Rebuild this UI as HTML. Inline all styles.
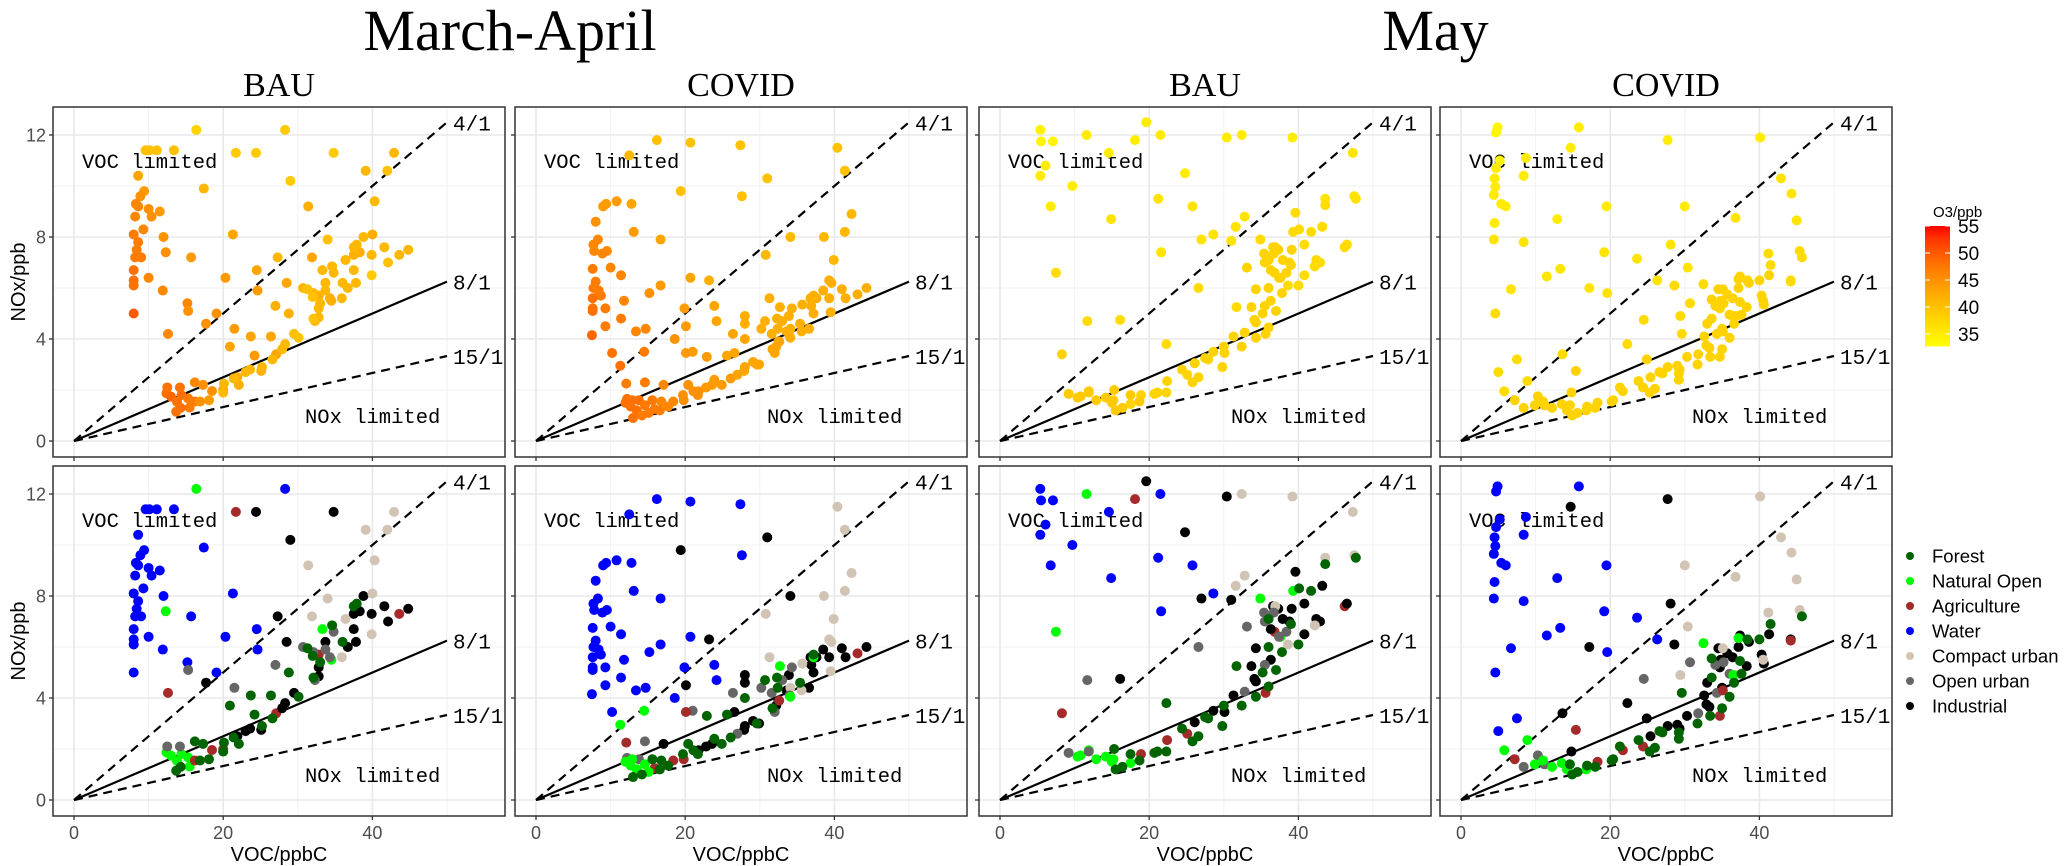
<!DOCTYPE html>
<html><head><meta charset="utf-8"><title>NOx vs VOC</title>
<style>
html,body{margin:0;padding:0;background:#fff;}
svg{display:block;}
text{font-family:"Liberation Sans",sans-serif;}
.serif{font-family:"Liberation Serif",serif;}
.mono{font-family:"Liberation Mono",monospace;}
</style></head>
<body>
<svg id="chart" width="2068" height="866" xmlns="http://www.w3.org/2000/svg"></svg>
<script>
// ---- data (x = VOC ppbC, y = NOx ppb, cat, O3 ppb) ----
const panelTitles = ["BAU","COVID","BAU","COVID"];
const periodTitles = ["March-April","May"];
const xTicks = [0,20,40];
const yTicks = [0,4,8,12];
const catNames = ["Forest","Natural Open","Agriculture","Water","Compact urban","Open urban","Industrial"];
const catCodes = ["F","N","A","W","C","O","I"];
const catColors = ["#006400","#00ff00","#a52a2a","#0000ff","#d2c4b4","#666666","#000000"];
const ratios = [4,8,15];
const ratioLabels = ["4/1","8/1","15/1"];
const o3Ticks = [35,40,45,50,55];

const marApBAU = [
[28.3,12.2,"W",39],[9.6,11.4,"W",40],[10.1,11.4,"W",40],[11.1,11.4,"W",40],[13.4,11.4,"W",40],[8.6,10.4,"W",43],[9.4,9.8,"W",44],[8.9,9.6,"W",45],[8.3,9.3,"W",46],[8.6,9.2,"W",46],[10.0,9.1,"W",45],[11.5,9.0,"W",44],[10.4,8.8,"W",45],[8.2,8.8,"W",46],[17.4,9.9,"W",41],[9.3,8.3,"W",46],[8.0,8.1,"W",47],[8.6,7.8,"W",47],[12.0,8.0,"W",45],[21.3,8.1,"W",43],[8.4,7.5,"W",47],[8.2,7.2,"W",47],[9.0,7.2,"W",47],[15.7,7.2,"W",44],[8.0,6.7,"W",48],[10.0,6.4,"W",46],[8.0,6.3,"W",48],[8.0,6.1,"W",48],[20.3,6.4,"W",44],[24.5,6.7,"W",43],[24.6,5.9,"W",44],[11.9,5.9,"W",46],[15.2,5.4,"W",46],[19.1,5.0,"W",45],[8.0,5.0,"W",50],
[16.4,12.2,"N",38],[12.3,7.4,"N",45],[33.3,6.7,"N",41],[37.7,7.4,"N",41],[34.5,5.5,"N",42],[12.4,1.87,"N",48],[13.0,1.74,"N",49],[13.8,1.54,"N",48],[15.5,1.31,"N",47],[14.4,1.8,"N",48],[15.3,1.67,"N",47],
[21.7,11.3,"A",39],[12.6,4.2,"A",46],[32.8,5.7,"A",42],[43.6,7.3,"A",41],[18.5,1.96,"A",45],[20.0,2.0,"A",44],[16.2,1.55,"A",47],[27.1,3.4,"A",43],
[24.4,11.3,"I",39],[34.8,11.3,"I",39],[29.0,10.2,"I",39],[38.8,8.0,"I",41],[44.8,7.5,"I",41],[41.6,7.6,"I",41],[39.9,7.3,"I",41],[38.3,7.4,"I",42],[37.5,7.3,"I",42],[42.1,7.0,"I",40],[37.5,6.7,"I",41],[27.3,7.2,"I",41],[28.5,6.2,"I",43],[33.7,6.2,"I",41],[37.8,6.2,"I",41],[36.7,6.0,"I",41],[32.8,5.2,"I",41],[32.8,4.85,"I",41],[17.7,4.6,"I",45],[29.5,4.2,"I",40],[28.3,3.8,"I",41],[27.9,3.6,"I",41],[23.0,2.7,"I",41],[23.6,2.8,"I",41],[25.1,2.75,"I",42],[21.9,2.5,"I",42],
[42.9,11.3,"C",41],[39.1,10.6,"C",41],[42.0,10.6,"C",40],[31.4,9.2,"C",42],[40.3,9.4,"C",41],[40.0,8.1,"C",42],[34.0,7.9,"C",40],[31.9,7.2,"C",43],[36.4,7.1,"C",41],[39.9,6.5,"C",39],[35.9,5.6,"C",41],
[15.3,5.1,"O",45],[21.5,4.4,"O",44],[27.0,5.3,"O",42],[30.7,6.0,"O",41],[32.1,5.8,"O",41],[33.7,5.9,"O",41],[34.8,6.6,"O",41],[34.3,5.6,"O",42],[32.3,4.7,"O",41],[12.5,2.1,"O",48],[14.2,2.1,"O",48],
[20.9,3.7,"F",43],[23.7,4.1,"F",43],[26.4,4.1,"F",43],[24.2,3.35,"F",44],[26.6,3.2,"F",41],[25.2,2.9,"F",41],[28.8,5.0,"F",42],[30.1,4.05,"F",40],[31.3,5.95,"F",40],[32.0,5.65,"F",40],[33.0,5.4,"F",41],[32.1,4.8,"F",40],[34.6,6.85,"F",41],[36.0,6.2,"F",41],[37.5,7.6,"F",41],[37.9,7.7,"F",41],[16.2,2.3,"F",46],[17.3,2.2,"F",45],[22.1,2.2,"F",42],[21.4,2.45,"F",41],[20.1,2.25,"F",41],[20.0,1.9,"F",41],[18.1,1.6,"F",44],[16.9,1.55,"F",45],[14.3,1.3,"F",48],[13.7,1.15,"F",48]
];

const marApCOVID = [
[16.2,11.8,"W",40],[20.7,11.7,"W",40],[27.4,11.6,"W",40],[12.5,11.2,"W",41],[27.6,9.6,"W",40],[10.8,9.4,"W",44],[9.4,9.3,"W",44],[9.0,9.2,"W",44],[12.8,9.3,"W",43],[8.0,8.6,"W",45],[13.1,8.2,"W",44],[16.7,7.9,"W",43],[8.3,7.9,"W",46],[7.7,7.7,"W",46],[7.8,7.45,"W",46],[8.9,7.35,"W",46],[9.5,7.45,"W",46],[7.6,6.75,"W",47],[10.0,6.8,"W",46],[11.4,6.5,"W",46],[20.7,6.4,"W",43],[8.0,6.25,"W",47],[7.7,6.0,"W",47],[8.4,5.9,"W",47],[8.7,5.7,"W",47],[7.6,5.6,"W",48],[16.7,6.1,"W",44],[15.2,5.8,"W",45],[11.8,5.5,"W",46],[9.3,5.2,"W",47],[7.6,5.2,"W",48],[7.6,5.1,"W",48],[19.9,5.2,"W",44],[23.9,5.3,"W",43],[24.2,4.7,"W",43],[11.4,4.8,"W",47],[9.3,4.5,"W",47],[13.4,4.3,"W",46],[14.7,4.4,"W",46],[18.6,4.0,"W",45],[7.5,4.15,"W",49],[10.2,3.45,"W",48],
[19.4,9.8,"I",40],[31.0,10.3,"I",40],[34.1,8.0,"I",41],[23.2,6.3,"I",42],[20.1,4.5,"I",44],[28.0,4.9,"I",42],[28.0,4.6,"I",42],[26.6,3.45,"I",43],[38.5,5.9,"I",42],[41.0,5.95,"I",42],[44.3,6.0,"I",42],[39.3,5.6,"I",42],[41.5,5.6,"I",42],[36.8,5.6,"I",42],[37.6,5.6,"I",42],[36.9,5.3,"I",42],[37.2,5.0,"I",42],[36.6,4.4,"I",42],[33.9,4.9,"I",42],[33.6,4.3,"I",42],[32.5,3.9,"I",42],[32.2,3.7,"I",43],[29.1,3.1,"I",43],[29.9,3.0,"I",43],[28.0,2.9,"I",43],[27.9,2.75,"I",43],[23.6,2.2,"I",44],[22.8,2.1,"I",44],[21.8,1.95,"I",45],[17.1,2.2,"I",46],
[40.4,11.5,"C",40],[41.4,10.6,"C",40],[42.3,8.9,"C",41],[38.6,8.0,"C",41],[41.4,8.2,"C",41],[30.8,7.3,"C",41],[39.9,7.1,"C",41],[39.3,6.3,"C",42],[39.6,6.2,"C",42],[31.3,5.6,"C",42],[35.7,5.35,"C",42],[39.5,5.05,"C",42],[34.1,4.4,"C",42],[35.6,4.3,"C",42],
[21.0,3.5,"O",44],[26.4,4.2,"O",43],[30.2,4.4,"O",42],[33.0,4.7,"O",42],[31.6,4.2,"O",42],[34.0,4.1,"O",42],[32.0,3.45,"O",43],[27.0,2.6,"O",43],[14.6,2.3,"O",47],[12.2,1.65,"O",48],[13.8,1.6,"O",48],[34.3,5.2,"O",42],
[20.1,3.45,"A",44],[12.1,2.25,"A",47],[18.4,1.55,"A",46],[19.8,1.6,"A",45],[15.9,1.25,"A",47],[43.1,5.75,"A",42],[32.6,3.9,"A",43],
[14.5,3.5,"N",47],[11.3,2.95,"N",48],[32.7,5.25,"N",42],[37.2,5.6,"N",42],[34.1,4.05,"N",42],[12.0,1.5,"N",48],[12.7,1.35,"N",48],[13.5,1.2,"N",48],[14.6,1.4,"N",47],[15.1,1.1,"N",47],[12.9,1.6,"N",48],
[22.9,3.3,"F",44],[25.6,3.35,"F",43],[28.0,4.0,"F",43],[30.7,4.7,"F",42],[32.3,4.8,"F",42],[32.4,4.4,"F",42],[31.7,3.6,"F",43],[35.4,4.6,"F",42],[37.2,5.7,"F",42],[29.6,3.0,"F",43],[26.1,2.45,"F",44],[24.9,2.2,"F",44],[23.9,2.4,"F",44],[20.4,2.2,"F",45],[21.1,1.95,"F",45],[19.7,1.8,"F",45],[21.7,1.8,"F",45],[15.6,1.6,"F",47],[16.8,1.55,"F",46],[17.7,1.35,"F",46],[16.6,1.2,"F",47],[14.2,1.0,"F",47],[13.0,0.9,"F",48]
];

const mayBAU = [
[5.4,12.2,"W",34],[5.5,11.75,"W",34],[7.1,11.75,"W",34],[6.1,10.8,"W",35],[5.4,10.4,"W",35],[14.6,11.3,"W",35],[9.7,10.0,"W",35],[21.5,12.0,"W",35],[6.8,9.2,"W",35],[14.9,8.7,"W",36],[21.2,9.5,"W",36],[25.8,9.2,"W",36],[28.6,8.1,"W",36],[21.6,7.4,"W",36],
[11.6,12.0,"N",35],[7.5,6.6,"N",37],[34.9,7.9,"N",37],[39.3,8.2,"N",37],[37.6,6.4,"N",38],[10.4,1.7,"N",39],[10.8,1.75,"N",39],[11.9,1.95,"N",39],[12.9,1.6,"N",39],[14.2,1.7,"N",39],[15.0,1.5,"N",39],[17.5,1.45,"N",38],[15.2,1.6,"N",39],
[18.1,11.8,"A",35],[8.3,3.4,"A",38],[22.4,2.35,"A",38],[18.9,1.8,"A",38],[25.1,2.6,"A",38],[35.6,4.2,"A",38],[36.8,6.6,"A",38],[46.2,7.6,"A",37],
[19.6,12.5,"I",35],[30.4,11.9,"I",35],[24.8,10.5,"I",35],[16.1,4.75,"I",37],[27.0,7.9,"I",36],[31.0,7.85,"I",36],[39.6,8.95,"I",37],[43.2,8.4,"I",37],[40.8,7.7,"I",37],[39.1,7.5,"I",38],[36.6,7.6,"I",38],[37.3,7.5,"I",38],[37.9,7.1,"I",38],[38.8,7.0,"I",38],[36.3,6.7,"I",38],[40.8,6.5,"I",37],[42.4,7.1,"I",37],[42.9,7.0,"I",37],[46.5,7.7,"I",37],[34.3,5.95,"I",38],[33.7,5.25,"I",38],[36.3,5.5,"I",38],[34.1,4.75,"I",38],[34.3,4.65,"I",38],[31.3,4.1,"I",38],[28.6,3.5,"I",38],[30.1,3.45,"I",38],[26.1,3.05,"I",38],
[32.4,12.0,"C",35],[39.2,11.9,"C",35],[47.3,11.3,"C",36],[43.6,9.5,"C",36],[47.5,9.6,"C",36],[32.8,8.8,"C",36],[31.6,8.4,"C",36],[42.2,6.85,"C",37],[38.6,6.1,"C",37],[36.9,7.6,"C",38],
[11.7,4.7,"O",37],[9.2,1.85,"O",39],[11.9,1.9,"O",39],[26.6,6.0,"O",37],[33.1,6.8,"O",38],[35.4,7.35,"O",38],[36.7,7.35,"O",38],[35.5,7.0,"O",38],[38.4,6.6,"O",38],[37.4,6.4,"O",38],[35.5,5.3,"O",38],[32.8,4.25,"O",38],
[22.3,3.8,"F",37],[24.4,2.8,"F",38],[25.8,2.3,"F",38],[26.6,2.5,"F",38],[27.5,3.25,"F",38],[27.9,3.2,"F",38],[29.8,2.9,"F",38],[30.0,3.7,"F",38],[32.4,3.7,"F",38],[34.3,4.05,"F",38],[36.0,4.45,"F",38],[35.2,5.0,"F",38],[37.0,5.1,"F",38],[37.8,5.8,"F",38],[40.0,6.1,"F",37],[36.0,6.0,"F",38],[31.7,5.25,"F",37],[36.0,7.1,"F",38],[39.0,6.9,"F",38],[40.1,8.3,"F",37],[41.7,8.2,"F",37],[43.6,9.25,"F",37],[47.7,9.5,"F",36],[15.3,2.0,"F",39],[17.5,1.8,"F",39],[18.7,1.55,"F",39],[20.7,1.85,"F",38],[21.1,1.9,"F",38],[22.3,1.9,"F",38],[15.5,1.2,"F",39],[16.4,1.3,"F",39]
];

const mayCOVID = [
[4.9,12.3,"W",34],[4.7,12.1,"W",34],[15.8,12.3,"W",35],[5.2,11.0,"W",34],[8.7,11.1,"W",35],[4.7,10.7,"W",35],[4.5,10.3,"W",35],[4.6,9.96,"W",35],[4.4,9.65,"W",35],[5.4,9.3,"W",35],[6.0,9.2,"W",35],[8.4,10.4,"W",35],[4.5,8.55,"W",35],[12.9,8.7,"W",35],[19.5,9.2,"W",35],[4.4,7.9,"W",36],[8.4,7.8,"W",36],[19.2,7.4,"W",36],[23.6,7.15,"W",36],[13.3,6.75,"W",36],[11.5,6.45,"W",36],[6.7,5.95,"W",36],[26.3,6.3,"W",36],[19.6,5.8,"W",36],[4.6,5.0,"W",37],[7.5,3.2,"W",37],[5.0,2.7,"W",37],
[14.7,11.5,"I",35],[27.7,11.8,"I",35],[28.1,7.7,"I",36],[17.2,6.0,"I",36],[28.6,6.1,"I",37],[22.3,3.8,"I",37],[13.6,3.4,"I",37],[14.8,1.9,"I",38],[24.9,3.2,"I",38],[25.4,2.5,"I",38],[27.7,2.9,"I",38],[29.0,2.95,"I",38],[29.3,2.8,"I",38],[30.3,3.3,"I",38],[32.9,3.75,"I",38],[33.3,3.65,"I",38],[32.6,4.1,"I",38],[35.0,4.4,"I",38],[33.0,4.6,"I",38],[34.5,5.95,"I",38],[34.8,5.5,"I",38],[34.7,5.2,"I",38],[35.7,5.75,"I",38],[36.4,5.6,"I",38],[37.2,6.0,"I",38],[38.3,5.25,"I",38],[38.6,6.2,"I",38],[40.3,5.7,"I",38],[40.6,5.35,"I",38],[41.3,6.5,"I",38],[44.2,6.3,"I",37],[37.4,6.45,"I",38],
[40.1,11.9,"C",35],[42.9,10.3,"C",36],[44.3,9.7,"C",36],[30.0,9.2,"C",35],[36.8,8.75,"C",36],[45.0,8.65,"C",36],[41.2,7.35,"C",37],[45.4,7.45,"C",37],[30.4,6.8,"C",36],[29.4,4.9,"C",37],[35.1,5.95,"C",38],[36.9,4.9,"C",38],[40.5,5.5,"C",38],
[24.5,4.75,"O",37],[30.7,5.4,"O",37],[31.8,3.4,"O",38],[34.3,4.2,"O",38],[34.1,5.3,"O",38],[36.0,4.95,"O",38],[35.2,5.4,"O",38],[10.3,1.75,"O",38],[8.4,1.3,"O",38],[11.2,1.4,"O",38],
[7.2,1.6,"A",38],[15.4,2.75,"A",38],[18.3,1.5,"A",38],[21.7,1.95,"A",38],[24.4,2.1,"A",38],[34.7,3.3,"A",38],[35.1,4.3,"A",38],[44.2,6.25,"A",37],
[5.8,1.95,"N",37],[8.9,2.35,"N",37],[32.5,6.15,"N",37],[37.2,6.35,"N",38],[36.5,4.9,"N",38],[9.9,1.4,"N",38],[11.0,1.55,"N",38],[12.2,1.3,"N",38],[13.5,1.45,"N",38],[14.2,1.2,"N",38],[16.8,1.2,"N",38],
[14.6,1.4,"F",38],[14.9,1.0,"F",38],[15.6,1.1,"F",38],[16.9,1.35,"F",38],[18.0,1.3,"F",38],[20.2,1.55,"F",38],[20.4,1.6,"F",38],[21.3,2.1,"F",38],[23.8,2.35,"F",38],[25.3,1.9,"F",38],[26.0,2.05,"F",38],[26.6,2.7,"F",38],[27.0,2.65,"F",38],[29.2,2.4,"F",38],[29.2,2.65,"F",38],[29.6,4.2,"F",37],[31.7,3.0,"F",38],[33.4,3.3,"F",38],[35.0,3.6,"F",38],[36.0,4.05,"F",38],[33.6,4.8,"F",38],[33.6,5.55,"F",38],[36.6,4.6,"F",38],[37.6,4.95,"F",38],[37.4,5.45,"F",38],[40.0,6.3,"F",38],[41.5,6.9,"F",37],[45.7,7.2,"F",37],[38.4,6.3,"F",38]
];

const panelData = [marApBAU, marApCOVID, mayBAU, mayCOVID];

// ---- layout ----
const NS = "http://www.w3.org/2000/svg";
const svg = document.getElementById("chart");
const colLeft = [53,515,979,1440];
const rowTop = [107,466];
const PW = 452, PH = 350;
const X0OFF = 21, XS = 7.46, Y0OFF = 334, YS = 25.5;
const xMin = -X0OFF/XS, xMax = (PW-X0OFF)/XS;
const yMin = -(PH-Y0OFF)/YS, yMax = Y0OFF/YS;

function el(tag, attrs, parent){
  const e = document.createElementNS(NS, tag);
  for (const k in attrs) e.setAttribute(k, attrs[k]);
  (parent||svg).appendChild(e);
  return e;
}
function txt(s, attrs, parent){ const t = el("text", attrs, parent); t.textContent = s; return t; }
function sx(c, v){ return colLeft[c] + X0OFF + v*XS; }
function sy(r, v){ return rowTop[r] + Y0OFF - v*YS; }
function o3Color(v){
  let t = (v-32.7)/22.3; t = Math.max(0, Math.min(1, t));
  const g = Math.round(255*Math.pow(1-t, 0.7));
  const b = Math.round(40*(1-t)*(1-t)*0);
  return "rgb(255,"+g+","+b+")";
}

// period titles
periodTitles.forEach((p,i)=>{
  const cx = (colLeft[i*2] + colLeft[i*2+1] + PW)/2;
  const t = txt(p, {x:cx, y:50, "text-anchor":"middle", "font-size":58, class:"serif", fill:"#000"});
  
  
});
// strip titles
panelTitles.forEach((p,c)=>{
  const t = txt(p, {x:colLeft[c]+PW/2, y:96, "text-anchor":"middle", "font-size":34, class:"serif", fill:"#000"});
  
  
});

for (let r=0; r<2; r++){
  for (let c=0; c<4; c++){
    const g = el("g", {});
    
    
    const L = colLeft[c], T = rowTop[r];
    el("rect", {x:L, y:T, width:PW, height:PH, fill:"#fff"}, g);
    // minor grid
    [10,30,50].forEach(v=>el("line",{x1:sx(c,v),x2:sx(c,v),y1:T,y2:T+PH,stroke:"#f2f2f2","stroke-width":1},g));
    [2,6,10].forEach(v=>el("line",{x1:L,x2:L+PW,y1:sy(r,v),y2:sy(r,v),stroke:"#f2f2f2","stroke-width":1},g));
    // major grid
    xTicks.forEach(v=>el("line",{x1:sx(c,v),x2:sx(c,v),y1:T,y2:T+PH,stroke:"#e8e8e8","stroke-width":1.6},g));
    yTicks.forEach(v=>el("line",{x1:L,x2:L+PW,y1:sy(r,v),y2:sy(r,v),stroke:"#e8e8e8","stroke-width":1.6},g));
    // ratio lines
    ratios.forEach((q,i)=>{
      const ln = el("line",{x1:sx(c,0),y1:sy(r,0),x2:sx(c,50),y2:sy(r,50/q),stroke:"#000","stroke-width":2.2},g);
      if (q!==8) ln.setAttribute("stroke-dasharray","9,6");
      
      
      const lb = txt(ratioLabels[i], {x:sx(c,50)+6, y:sy(r,50/q)+8, "font-size":21, class:"mono", fill:"#000"}, g);
      
      
    });
    const v1 = txt("VOC limited", {x:L+29, y:T+61, "font-size":20.5, class:"mono", fill:"#000"}, g);
    
    
    const v2 = txt("NOx limited", {x:L+252, y:T+316, "font-size":20.5, class:"mono", fill:"#000"}, g);
    
    
    // points
    panelData[c].forEach(p=>{
      const fill = r===0 ? o3Color(p[3]) : catColors[catCodes.indexOf(p[2])];
      const pt = el("circle", {cx:sx(c,p[0]), cy:sy(r,p[1]), r:5, fill:fill}, g);
      
      
    });
    // border
    el("rect", {x:L, y:T, width:PW, height:PH, fill:"none", stroke:"#333", "stroke-width":1.5}, g);
    // ticks
    yTicks.forEach(v=>el("line",{x1:L-4,x2:L,y1:sy(r,v),y2:sy(r,v),stroke:"#333","stroke-width":1.3},g));
    xTicks.forEach(v=>el("line",{x1:sx(c,v),x2:sx(c,v),y1:T+PH,y2:T+PH+4,stroke:"#333","stroke-width":1.3},g));
    if (c===0){
      yTicks.forEach(v=>{
        const t = txt(String(v), {x:L-7, y:sy(r,v)+6.5, "text-anchor":"end", "font-size":18, fill:"#4d4d4d"}, g);
        
        
      });
      const yt = txt("NOx/ppb", {x:0, y:0, "text-anchor":"middle", "font-size":20, fill:"#000", transform:"translate(25,"+(T+PH/2)+") rotate(-90)"}, g);
      
      
    }
    if (r===1){
      xTicks.forEach(v=>{
        const t = txt(String(v), {x:sx(c,v), y:839, "text-anchor":"middle", "font-size":18, fill:"#4d4d4d"}, g);
        
        
      });
      const xt = txt("VOC/ppbC", {x:L+PW/2, y:861, "text-anchor":"middle", "font-size":20, fill:"#000"}, g);
      
      
    }
  }
}

// colour bar legend
const cb = el("g", {});


const defs = el("defs", {});
const grad = el("linearGradient", {id:"o3grad", x1:0, y1:1, x2:0, y2:0}, defs);
for (let i=0;i<=10;i++){
  const v = 32.7 + 22.3*i/10;
  el("stop", {offset:(i*10)+"%", "stop-color":o3Color(v)}, grad);
}
const cbTop = 226, cbPer = 5.4;
function cbY(v){ return cbTop + (55-v)*cbPer; }
el("rect", {x:1925, y:cbTop, width:25, height:(55-32.7)*cbPer, fill:"url(#o3grad)"}, cb);
txt("O3/ppb", {x:1933, y:217, "font-size":15, fill:"#000"}, cb);
o3Ticks.forEach(v=>{
  el("line",{x1:1925,x2:1930,y1:cbY(v),y2:cbY(v),stroke:"#fff","stroke-width":1},cb);
  el("line",{x1:1945,x2:1950,y1:cbY(v),y2:cbY(v),stroke:"#fff","stroke-width":1},cb);
  const t = txt(String(v), {x:1958, y:cbY(v)+7, "font-size":19, fill:"#000"}, cb);
  
  
});

// category legend
const lg = el("g", {});


catNames.forEach((n,i)=>{
  const y = 556 + i*25;
  const en = el("g", {}, lg);
  
  
  el("circle", {cx:1910, cy:y, r:4, fill:catColors[i]}, en);
  txt(n, {x:1932, y:y+6.5, "font-size":18.5, fill:"#000"}, en);
});
</script>
</body></html>
